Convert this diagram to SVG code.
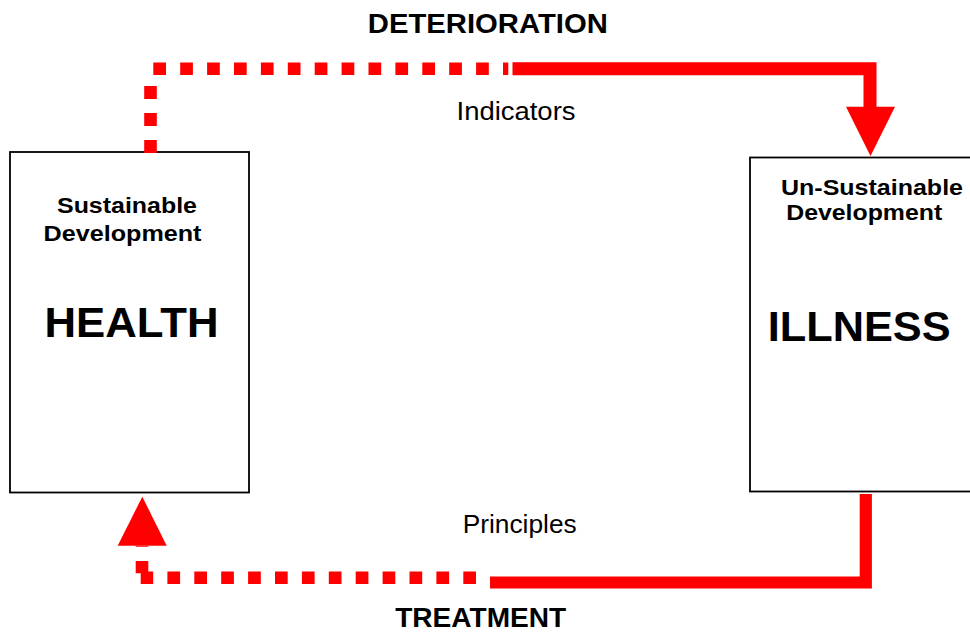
<svg xmlns="http://www.w3.org/2000/svg" width="970" height="632" viewBox="0 0 970 632">
  <style>
    .box { fill: #ffffff; stroke: #000000; stroke-width: 1.8; }
    .txt { font-family: "Liberation Sans", Arial, sans-serif; fill: #000000; text-anchor: middle; }
    .sub { font-size: 22.5px; font-weight: bold; }
    .big { font-size: 43px; font-weight: bold; }
    .lbl { font-size: 25.5px; }
    .stage { font-size: 27.5px; font-weight: bold; }
    .solid { fill: none; stroke: #ff0000; stroke-width: 13; stroke-linejoin: miter; stroke-linecap: butt; }
    .dots { fill: none; stroke: #ff0000; stroke-width: 12.6; stroke-dasharray: 12.7 14.2; stroke-linecap: butt; }
    .head { fill: #ff0000; }
  </style>
  <rect width="970" height="632" fill="#ffffff"/>

  <!-- stage labels -->
  <text class="txt stage" x="487.8" y="33.3" textLength="240" lengthAdjust="spacingAndGlyphs">DETERIORATION</text>
  <text class="txt lbl" x="516" y="120" textLength="119" lengthAdjust="spacingAndGlyphs">Indicators</text>
  <text class="txt lbl" x="519.7" y="533" textLength="114" lengthAdjust="spacingAndGlyphs">Principles</text>
  <text class="txt stage" x="480.7" y="627" textLength="171" lengthAdjust="spacingAndGlyphs">TREATMENT</text>

  <g id="health">
    <rect class="box" x="10" y="152" width="239" height="340.5"/>
    <text class="txt sub" x="127" y="213" textLength="140" lengthAdjust="spacingAndGlyphs">Sustainable</text>
    <text class="txt sub" x="122.5" y="240.5" textLength="158" lengthAdjust="spacingAndGlyphs">Development</text>
    <text class="txt big" x="131.5" y="336.5" textLength="174" lengthAdjust="spacingAndGlyphs">HEALTH</text>
  </g>

  <g id="illness">
    <rect class="box" x="750" y="157.5" width="240" height="334"/>
    <text class="txt sub" x="872" y="195" textLength="182" lengthAdjust="spacingAndGlyphs">Un-Sustainable</text>
    <text class="txt sub" x="864.2" y="220" textLength="156" lengthAdjust="spacingAndGlyphs">Development</text>
    <text class="txt big" x="859.2" y="341" textLength="183" lengthAdjust="spacingAndGlyphs">ILLNESS</text>
  </g>

  <g id="connectors">
    <!-- deterioration: health -> illness -->
    <path class="dots" d="M150.5,153 V86" style="stroke-dasharray: 13 14"/>
    <path class="dots" d="M153.3,68.8 H508.3"/>
    <path class="solid" d="M512.5,68.7 H870 V108"/>
    <polygon class="head" points="846,106.7 895,106.7 870.5,156"/>

    <!-- treatment: illness -> health -->
    <path class="solid" d="M865.8,494 V582.5 H490" style="stroke-width:12.2"/>
    <path class="dots" d="M476,577.8 H140.7"/>
    <path class="dots" d="M142,573.3 V545.7" style="stroke-dasharray: 12.3 14.2"/>
    <polygon class="head" points="117.7,545.7 166.7,545.7 142.3,496.7"/>
  </g>
</svg>
